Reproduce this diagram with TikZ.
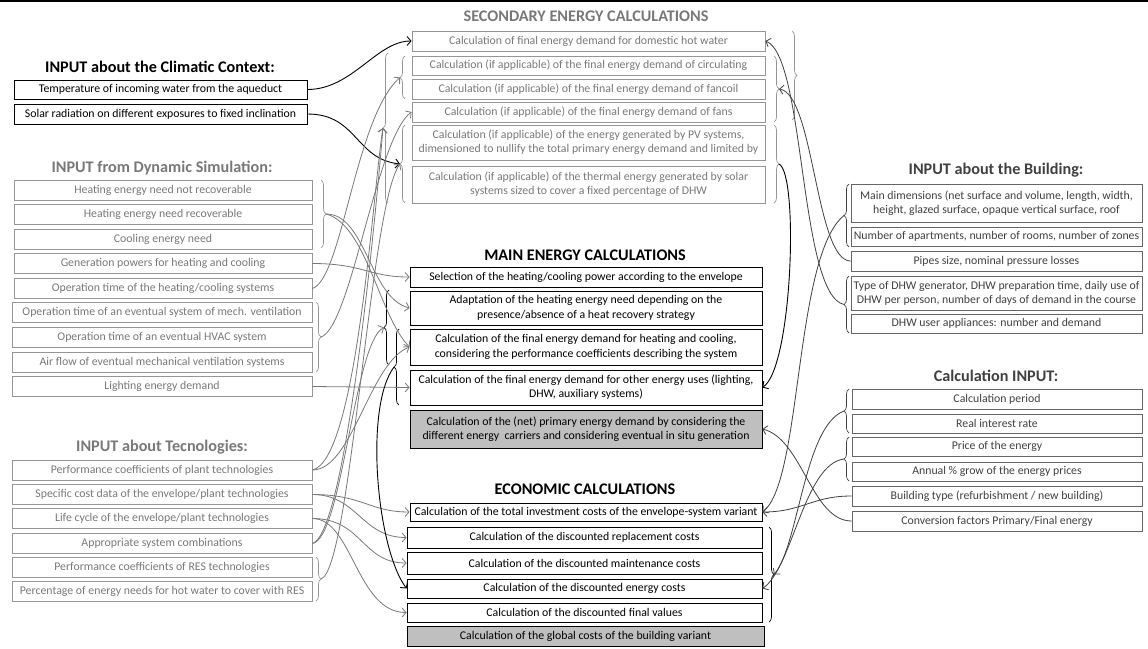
\documentclass[tikz,border=0pt]{standalone}
\usepackage{fontspec}
\setmainfont{Carlito}
\usetikzlibrary{decorations.pathreplacing,arrows.meta}
\definecolor{softgray}{RGB}{120,120,120}
\definecolor{linegray}{RGB}{150,150,150}
\definecolor{darkgray}{RGB}{64,64,64}
\definecolor{fillgray}{RGB}{191,191,191}
\tikzset{
  box/.style={draw, rectangle, inner sep=1pt, align=center, line width=0.8pt,
    font=\fontsize{11.8}{14.2}\selectfont},
  gbox/.style={box, draw=linegray, text=softgray},
  kbox/.style={box, draw=black, text=black},
  dbox/.style={box, draw=darkgray!80, text=darkgray},
  head/.style={font=\fontsize{16.2}{18}\selectfont\bfseries},
  curly/.style={decorate, decoration={brace, amplitude=5pt}, line width=0.7pt},
  tip/.style={-{Straight Barb[length=4pt,width=9pt]}},
  garrow/.style={tip, draw=softgray, line width=0.8pt},
  karrow/.style={tip, draw=black, line width=0.9pt},
  darrow/.style={tip, draw=darkgray, line width=0.8pt}
}
\begin{document}
\begin{tikzpicture}[x=1pt, y=-1pt]
  \useasboundingbox (0,0) rectangle (1148,648);
  \draw [line width=1.5pt] (0,1) -- (1148,1);
  % titles
  \node [head] (0) at (160,67) {INPUT about the Climatic Context:};
  \node [head, text=softgray] (10) at (162,168) {INPUT from Dynamic Simulation:};
  \node [head, text=softgray] (20) at (162,447) {INPUT about Tecnologies:};
  \node [head, text=softgray] (30) at (586,16) {SECONDARY ENERGY CALCULATIONS};
  \node [head] (40) at (585,255) {MAIN ENERGY CALCULATIONS};
  \node [head] (50) at (585,489) {ECONOMIC CALCULATIONS};
  \node [head, text=darkgray] (60) at (996,170) {INPUT about the Building:};
  \node [head, text=darkgray] (70) at (996,376) {Calculation INPUT:};
  % climatic context
  \node [kbox, minimum width=293, minimum height=19] (1) at (160.5,89.5) {Temperature of incoming water from the aqueduct};
  \node [kbox, minimum width=293, minimum height=20] (2) at (160.5,114) {Solar radiation on different exposures to fixed inclination};
  % dynamic simulation
  \node [gbox, minimum width=298, minimum height=20] (11) at (163,190) {Heating energy need not recoverable};
  \node [gbox, minimum width=298, minimum height=20] (12) at (163,214.5) {Heating energy need recoverable};
  \node [gbox, minimum width=298, minimum height=20] (13) at (163,239) {Cooling energy need};
  \node [gbox, minimum width=298, minimum height=20] (14) at (163,263.5) {Generation powers for heating and cooling};
  \node [gbox, minimum width=298, minimum height=20] (15) at (163,288.5) {Operation time of the heating/cooling systems};
  \node [gbox, minimum width=300, minimum height=20] (16) at (162,312.5) {Operation time of an eventual system of mech. ventilation};
  \node [gbox, minimum width=300, minimum height=20] (17) at (162,337.5) {Operation time of an eventual HVAC system};
  \node [gbox, minimum width=300, minimum height=20] (18) at (162,362) {Air flow of eventual mechanical ventilation systems};
  \node [gbox, minimum width=300, minimum height=20] (19) at (162,386.5) {Lighting energy demand};
  % technologies
  \node [gbox, minimum width=300, minimum height=20] (21) at (162,470) {Performance coefficients of plant technologies};
  \node [gbox, minimum width=300, minimum height=20] (22) at (162,494.5) {Specific cost data of the envelope/plant technologies};
  \node [gbox, minimum width=300, minimum height=20] (23) at (162,518.5) {Life cycle of the envelope/plant technologies};
  \node [gbox, minimum width=300, minimum height=20] (24) at (162,543.5) {Appropriate system combinations};
  \node [gbox, minimum width=300, minimum height=20] (25) at (162,567) {Performance coefficients of RES technologies};
  \node [gbox, minimum width=300, minimum height=20] (26) at (162,591.5) {Percentage of energy needs for hot water to cover with RES};
  % secondary energy calculations
  \node [gbox, minimum width=353, minimum height=20] (31) at (588.5,41) {Calculation of final energy demand for domestic hot water};
  \node [gbox, minimum width=353, minimum height=19] (32) at (588.5,65.5) {Calculation (if applicable) of the final energy demand of circulating};
  \node [gbox, minimum width=353, minimum height=20] (33) at (588.5,89) {Calculation (if applicable) of the final energy demand of fancoil};
  \node [gbox, minimum width=353, minimum height=20] (34) at (588.5,112) {Calculation (if applicable) of the final energy demand of fans};
  \node [gbox, minimum width=353, minimum height=35] (35) at (588.5,142.5) {Calculation (if applicable) of the energy generated by PV systems,\\dimensioned to nullify the total primary energy demand and limited by};
  \node [gbox, minimum width=353, minimum height=37] (36) at (588.5,184.5) {Calculation (if applicable) of the thermal energy generated by solar\\systems sized to cover a fixed percentage of DHW};
  % main energy calculations
  \node [kbox, minimum width=352, minimum height=20] (41) at (586,277) {Selection of the heating/cooling power according to the envelope};
  \node [kbox, minimum width=352, minimum height=34] (42) at (586,308) {Adaptation of the heating energy need depending on the\\presence/absence of a heat recovery strategy};
  \node [kbox, minimum width=352, minimum height=36] (43) at (586,347) {Calculation of the final energy demand for heating and cooling,\\considering the performance coefficients describing the system};
  \node [kbox, minimum width=352, minimum height=35] (44) at (586,387.5) {Calculation of the final energy demand for other energy uses (lighting,\\DHW, auxiliary systems)};
  \node [kbox, fill=fillgray, minimum width=352, minimum height=38] (45) at (586,429) {Calculation of the (net) primary energy demand by considering the\\different energy\ \ carriers and considering eventual in situ generation};
  % economic calculations
  \node [kbox, minimum width=352, minimum height=18] (51) at (586,512) {Calculation of the total investment costs of the envelope-system variant};
  \node [kbox, minimum width=355, minimum height=21] (52) at (584.5,537.5) {Calculation of the discounted replacement costs};
  \node [kbox, minimum width=355, minimum height=22] (53) at (584.5,563) {Calculation of the discounted maintenance costs};
  \node [kbox, minimum width=355, minimum height=19] (54) at (584.5,588.5) {Calculation of the discounted energy costs};
  \node [kbox, minimum width=355, minimum height=19] (55) at (584.5,612.5) {Calculation of the discounted final values};
  \node [kbox, fill=fillgray, minimum width=357, minimum height=20] (56) at (585.5,636.5) {Calculation of the global costs of the building variant};
  % building
  \node [dbox, minimum width=291, minimum height=38] (61) at (996.5,203) {Main dimensions (net surface and volume, length, width,\\height, glazed surface, opaque vertical surface, roof};
  \node [dbox, minimum width=291, minimum height=19] (62) at (996.5,236.5) {Number of apartments, number of rooms, number of zones};
  \node [dbox, minimum width=291, minimum height=20] (63) at (996.5,261) {Pipes size, nominal pressure losses};
  \node [dbox, minimum width=291, minimum height=34] (64) at (996.5,293) {Type of DHW generator, DHW preparation time, daily use of\\DHW per person, number of days of demand in the course};
  \node [dbox, minimum width=291, minimum height=19] (65) at (996.5,323.5) {DHW user appliances: number and demand};
  % calculation input
  \node [dbox, minimum width=290, minimum height=20] (71) at (997,399) {Calculation period};
  \node [dbox, minimum width=290, minimum height=19] (72) at (997,423.5) {Real interest rate};
  \node [dbox, minimum width=290, minimum height=19] (73) at (997,446.5) {Price of the energy};
  \node [dbox, minimum width=290, minimum height=19] (74) at (997,471.5) {Annual \% grow of the energy prices};
  \node [dbox, minimum width=290, minimum height=20] (75) at (997,496) {Building type (refurbishment / new building)};
  \node [dbox, minimum width=290, minimum height=20] (76) at (997,521) {Conversion factors Primary/Final energy};
  % braces
  \draw [curly, linegray] (321,180) -- (321,248);
  \draw [curly, linegray] (316,302) -- (316,372);
  \draw [curly, linegray] (316,557) -- (316,601);
  \draw [curly, linegray] (405,99) -- (405,56);
  \draw [curly, linegray] (405,203) -- (405,125);
  \draw [curly, linegray] (388,203) -- (388,53);
  \draw [curly, linegray] (774,56) -- (774,122);
  \draw [curly, linegray] (792,31) -- (792,120);
  \draw [curly, linegray] (774,125) -- (774,203);
  \draw [curly] (389,365) -- (389,290);
  \draw [curly] (399,405) -- (399,329);
  \draw [curly] (769,527) -- (769,622);
  \draw [curly, darkgray] (849,247) -- (849,184);
  \draw [curly, darkgray] (849,333) -- (849,276);
  \draw [curly, darkgray] (849,433) -- (849,389);
  \draw [curly, darkgray] (849,481) -- (849,437);
  \coordinate (81) at (326,214);
  \coordinate (82) at (321,337);
  \coordinate (83) at (321,579);
  \coordinate (84) at (400,77.5);
  \coordinate (85) at (400,164);
  \coordinate (86) at (383,128);
  \coordinate (87) at (779,89);
  \coordinate (89) at (779,164);
  \coordinate (90) at (384,327.5);
  \coordinate (91) at (394,367);
  \coordinate (92) at (774,574.5);
  \coordinate (93) at (844,215.5);
  \coordinate (94) at (844,304.5);
  \coordinate (95) at (844,411);
  \coordinate (96) at (844,459);
  % edges from the left
  \draw [karrow] (1.east) .. controls +(45,0) and +(-35,0) .. (31.west);
  \draw [karrow] (2.east) .. controls +(50,0) and +(-45,-5) .. (85);
  \draw [garrow] (15.east) .. controls +(30,-10) and +(-45,40) .. (84);
  \draw [garrow] (82) .. controls +(30,-10) and +(-35,25) .. (34.west);
  \draw [garrow] (83) .. controls +(30,-10) and +(-30,40) .. (85);
  \draw [garrow] (21.east) .. controls +(40,0) and +(-40,15) .. (43.west);
  \draw [garrow] (21.east) .. controls +(45,-10) and +(-10,60) .. (86);
  \draw [garrow] (24.east) .. controls +(30,-5) and +(-30,15) .. (90);
  \draw [garrow] (24.east) .. controls +(35,-10) and +(-5,60) .. (86);
  \draw [garrow] (81) .. controls +(40,0) and +(-40,-10) .. (42.west);
  \draw [garrow] (81) .. controls +(40,10) and +(-30,-30) .. (43.west);
  \draw [garrow] (19.east) -- (44.west);
  \draw [garrow] (14.east) .. controls +(50,0) and +(-40,0) .. (41.west);
  \draw [garrow] (22.east) .. controls +(50,0) and +(-40,0) .. (51.west);
  \draw [garrow] (22.east) .. controls +(45,0) and +(-45,0) .. (52.west);
  \draw [garrow] (23.east) .. controls +(50,0) and +(-45,0) .. (53.west);
  \draw [garrow] (23.east) .. controls +(40,0) and +(-50,0) .. (55.west);
  \draw [karrow] (91) .. controls +(-30,40) and +(-30,-40) .. (54.west);
  % edges from the right
  \draw [darrow] (94) .. controls +(-45,-10) and +(40,15) .. (31.east);
  \draw [darrow] (63.west) .. controls +(-35,0) and +(35,5) .. (87);
  \draw [karrow] (89) .. controls +(20,10) and +(30,-20) .. (44.east);
  \draw [darrow] (93) .. controls +(-50,40) and +(40,-30) .. (51.east);
  \draw [darrow] (76.west) .. controls +(-40,0) and +(40,10) .. (45.east);
  \draw [darrow] (75.west) .. controls +(-40,0) and +(40,0) .. (51.east);
  \draw [darrow] (95) .. controls +(-40,15) and +(25,-30) .. (92);
  \draw [darrow] (96) .. controls +(-40,5) and +(30,-20) .. (54.east);
\end{tikzpicture}
\end{document}
